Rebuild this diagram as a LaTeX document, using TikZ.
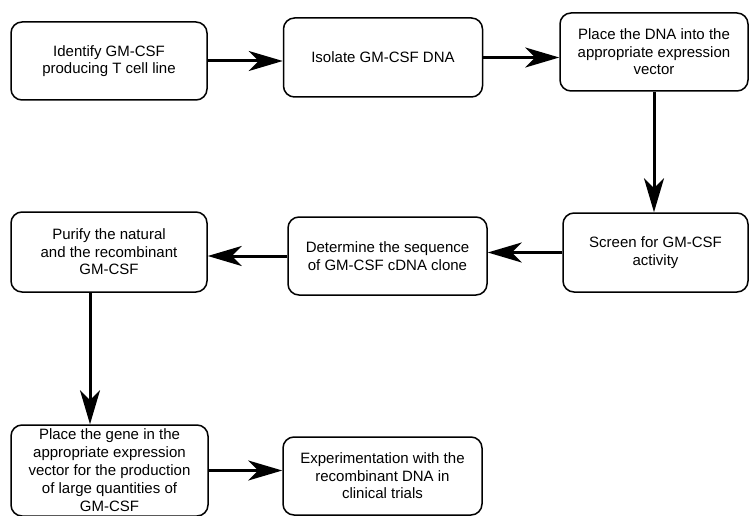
\documentclass[tikz,border=0pt]{standalone}
\usepackage{fontspec}
\setmainfont{Liberation Sans}
\usetikzlibrary{arrows.meta}

\begin{document}
\begin{tikzpicture}[x=1pt,y=-1pt]
			\useasboundingbox (0,0) rectangle (750,516);
			\begin{scope}[every node/.style={draw,rounded corners=11pt,line width=1.5pt,align=center,inner sep=2pt,font=\fontsize{15}{17.5}\selectfont}]
				\node[minimum width=196pt,minimum height=78pt] (identify) at (109,61) {Identify GM-CSF\\producing T cell line};
				\node[minimum width=199pt,minimum height=79pt] (isolate) at (383,57.5) {Isolate GM-CSF DNA};
				\node[minimum width=188pt,minimum height=78pt] (placedna) at (654,52) {Place the DNA into the\\appropriate expression\\vector};
				\node[minimum width=185pt,minimum height=79pt] (screen) at (655.5,252.5) {Screen for GM-CSF\\activity};
				\node[minimum width=199pt,minimum height=78pt] (sequence) at (387.5,256) {Determine the sequence\\of GM-CSF cDNA clone};
				\node[minimum width=196pt,minimum height=80pt] (purify) at (109,252) {Purify the natural\\and the recombinant\\GM-CSF};
				\node[minimum width=197pt,minimum height=91pt,font=\fontsize{15}{18}\selectfont] (placegene) at (109.5,470.5) {Place the gene in the\\appropriate expression\\vector for the production\\of large quantities of\\GM-CSF};
				\node[minimum width=199pt,minimum height=78pt] (experiment) at (382.5,476) {Experimentation with the\\recombinant DNA in\\clinical trials};
			\end{scope}
			\begin{scope}[line width=3pt,-{Stealth[length=34pt,width=20pt,inset=10pt]}]
				\path (identify.east) edge (identify.east -| isolate.west);
				\path (isolate.east) edge (isolate.east -| placedna.west);
				\path (placedna.south) edge (placedna.south |- screen.north);
				\path (screen.west) edge (screen.west -| sequence.east);
				\path (sequence.west) edge (sequence.west -| purify.east);
				\path ([xshift=-19pt]purify.south) edge ([xshift=-19pt]purify.south |- placegene.north);
				\path (placegene.east) edge (placegene.east -| experiment.west);
			\end{scope}
		\end{tikzpicture}
\end{document}
